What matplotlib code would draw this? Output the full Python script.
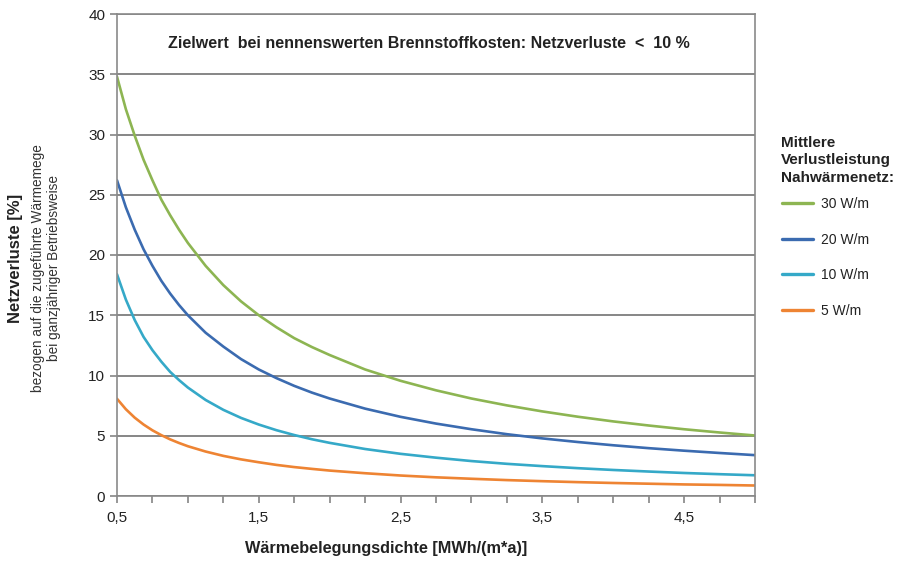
import matplotlib
matplotlib.use("Agg")
import matplotlib.pyplot as plt
from matplotlib.ticker import MultipleLocator, FixedLocator

plt.rcParams['font.family'] = ['Liberation Sans', 'DejaVu Sans']

x = [0.5, 0.5625, 0.625, 0.6875, 0.75, 0.8125, 0.875, 0.9375, 1.0, 1.125, 1.25,
     1.375, 1.5, 1.625, 1.75, 1.875, 2.0, 2.25, 2.5, 2.75,
     3.0, 3.25, 3.5, 3.75, 4.0, 4.25, 4.5, 4.75, 5.0]
w30 = [34.8, 32.1, 29.9, 27.9, 26.2, 24.6, 23.3, 22.1, 21.0, 19.1, 17.5,
       16.15, 15.0, 14.0, 13.1, 12.36, 11.7, 10.5, 9.56, 8.77,
       8.09, 7.52, 7.02, 6.58, 6.19, 5.85, 5.54, 5.27, 5.02]
w20 = [26.2, 23.96, 22.1, 20.47, 19.1, 17.86, 16.8, 15.85, 15.0, 13.55, 12.4,
       11.36, 10.5, 9.78, 9.14, 8.58, 8.09, 7.25, 6.57, 6.01,
       5.54, 5.13, 4.78, 4.48, 4.21, 3.97, 3.76, 3.57, 3.39]
w10 = [18.4, 16.3, 14.6, 13.2, 12.1, 11.15, 10.3, 9.62, 9.0, 7.97, 7.15,
       6.48, 5.93, 5.46, 5.06, 4.71, 4.41, 3.90, 3.50, 3.18,
       2.90, 2.67, 2.48, 2.31, 2.16, 2.03, 1.91, 1.81, 1.72]
w5 = [8.07, 7.2, 6.5, 5.93, 5.45, 5.05, 4.70, 4.40, 4.13, 3.69, 3.33,
      3.04, 2.80, 2.58, 2.40, 2.25, 2.11, 1.89, 1.70, 1.55,
      1.43, 1.32, 1.23, 1.15, 1.08, 1.02, 0.96, 0.92, 0.87]

series = [("30 W/m", w30, "#8db552"), ("20 W/m", w20, "#3b6bb0"),
          ("10 W/m", w10, "#35a9c8"), ("5 W/m", w5, "#ee8433")]

xticklabels = ["0,5", "1,5", "2,5", "3,5", "4,5"]
xtickpos = [0.5, 1.5, 2.5, 3.5, 4.5]

fig = plt.figure(figsize=(9.06, 5.61), dpi=100)
W, H = 906, 561
ax = fig.add_axes([117 / W, 1 - 496 / H, (755 - 117) / W, (496 - 14) / H])

for lab, ys, c in series:
    ax.plot(x, ys, color=c, lw=1.9, label=lab, solid_capstyle='round',
            solid_joinstyle='round')

ax.set_xlim(0.5, 5.0)
ax.set_ylim(0, 40)
ax.yaxis.set_major_locator(MultipleLocator(5))
ax.xaxis.set_major_locator(FixedLocator(xtickpos))
ax.set_xticklabels(xticklabels)
ax.xaxis.set_minor_locator(MultipleLocator(0.25))
ax.grid(axis='y', color='#727272', lw=1.2)
ax.set_axisbelow(True)
for s in ax.spines.values():
    s.set_color('#8a8a8a')
    s.set_linewidth(1.2)
ax.tick_params(axis='both', which='both', direction='out', color='#7a7a7a',
               length=5, width=1.1, labelsize=11, labelcolor='#222222')
ax.tick_params(axis='x', pad=6)

ax.text(429 / W, 1 - 44 / H, "Zielwert  bei nennenswerten Brennstoffkosten: Netzverluste  <  10 %",
        transform=fig.transFigure, ha='center', va='center', fontsize=11.5,
        fontweight='bold', color='#222222')

fig.text(386 / W, 1 - 548 / H, "Wärmebelegungsdichte [MWh/(m*a)]", ha='center', va='center',
         fontsize=11.7, fontweight='bold', color='#222222')
fig.text(16 / W, 1 - 258 / H, "Netzverluste [%]", rotation=90, ha='center', va='center',
         fontsize=12, fontweight='bold', color='#222222')
fig.text(46 / W, 1 - 268 / H, "bezogen auf die zugeführte Wärmemege\nbei ganzjähriger Betriebsweise",
         rotation=90, ha='center', va='center', fontsize=9.8, color='#333333',
         multialignment='center', linespacing=1.2)

fig.text(781 / W, 1 - 136 / H, "Mittlere\nVerlustleistung\nNahwärmenetz:", ha='left', va='top',
         fontsize=11, fontweight='bold', color='#222222', linespacing=1.3)

leg = ax.legend(loc='upper left', bbox_to_anchor=(782 / W, 1 - 197 / H),
                bbox_transform=fig.transFigure, frameon=False, fontsize=10,
                handlelength=2.2, handletextpad=0.6, labelspacing=1.55, borderpad=0,
                borderaxespad=0)
for t in leg.get_texts():
    t.set_color('#222222')
for l in leg.get_lines():
    l.set_linewidth(2.4)

fig.savefig("out.png", dpi=100)
